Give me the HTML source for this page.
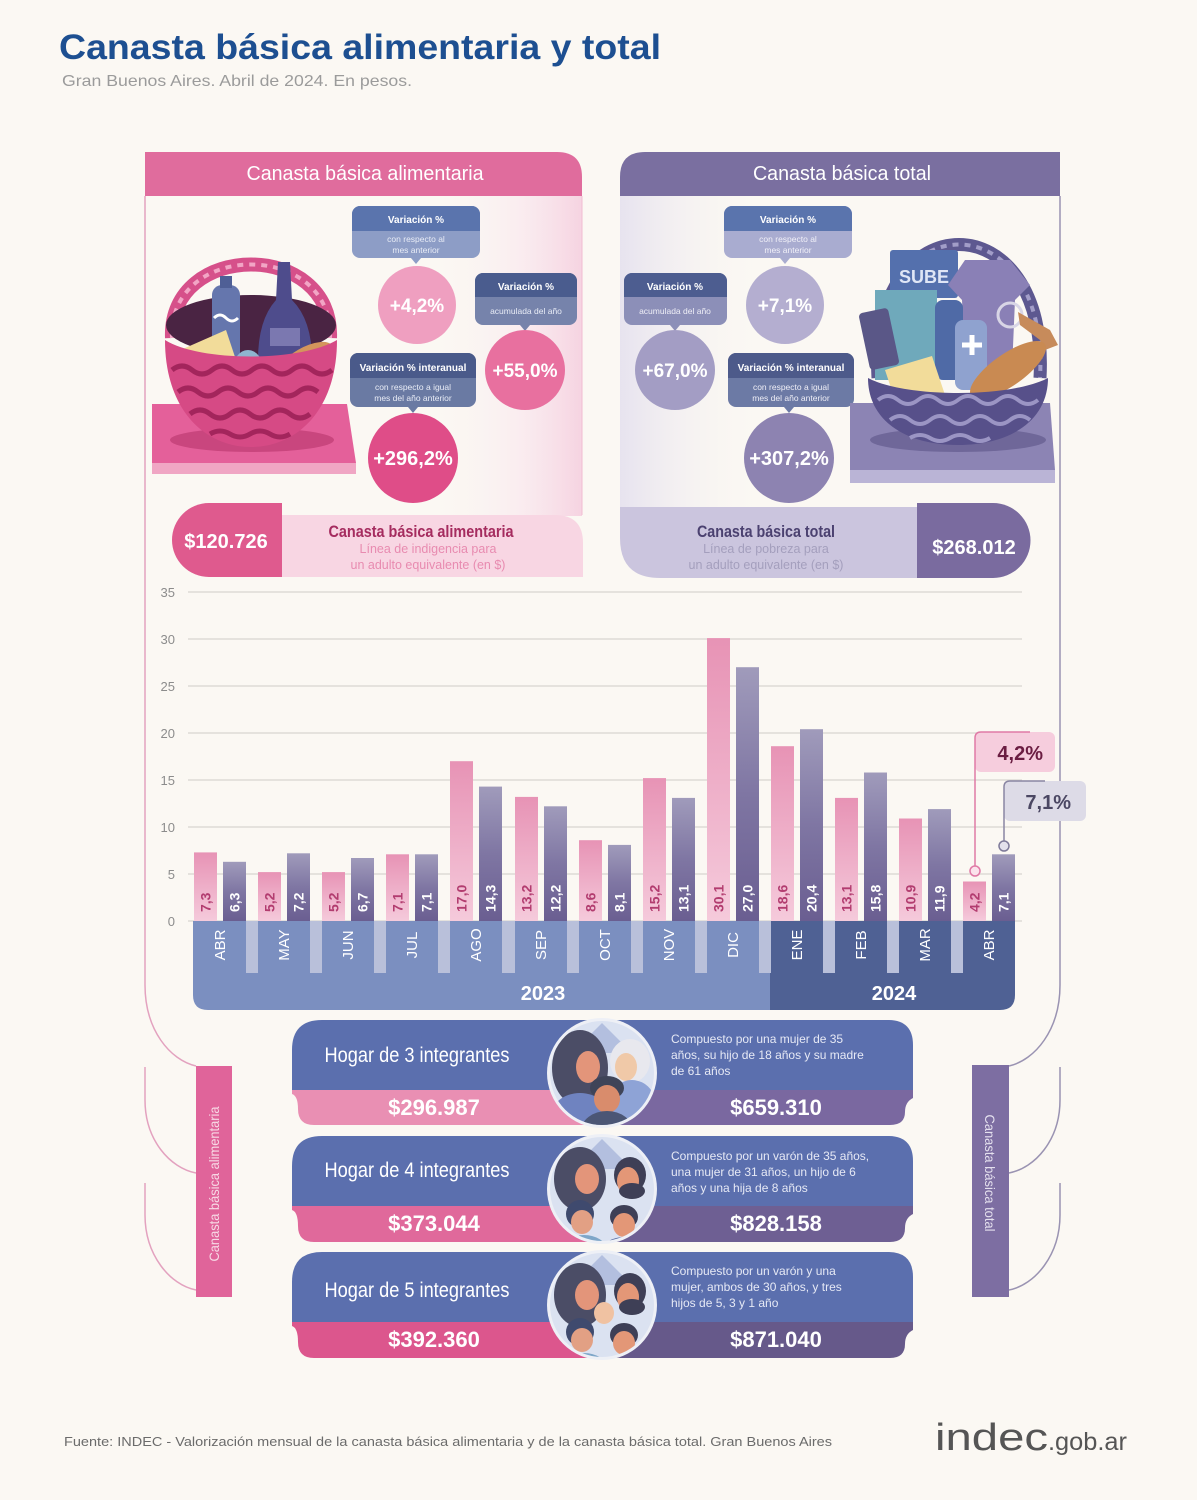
<!DOCTYPE html>
<html><head><meta charset="utf-8"><style>
html,body{margin:0;padding:0;background:#fbf8f3;}
svg{display:block;font-family:"Liberation Sans",sans-serif;}
</style></head><body>
<svg width="1197" height="1500" viewBox="0 0 1197 1500" xmlns="http://www.w3.org/2000/svg">
<defs>
<linearGradient id="pg" x1="0" y1="0" x2="0" y2="1"><stop offset="0" stop-color="#e793b5"/><stop offset="1" stop-color="#f5cadb"/></linearGradient>
<linearGradient id="dg" x1="0" y1="0" x2="0" y2="1"><stop offset="0" stop-color="#a09bbb"/><stop offset="0.5" stop-color="#7f76a3"/><stop offset="1" stop-color="#6a5e91"/></linearGradient>
<linearGradient id="lp" x1="0" y1="0" x2="1" y2="0"><stop offset="0" stop-color="#fbf8f3" stop-opacity="0"/><stop offset="0.6" stop-color="#f9e6ee" stop-opacity="0.6"/><stop offset="1" stop-color="#f6d3e1"/></linearGradient>
<linearGradient id="rp" x1="0" y1="0" x2="1" y2="0"><stop offset="0" stop-color="#e7e3ef"/><stop offset="1" stop-color="#fbf8f3" stop-opacity="0"/></linearGradient>
<clipPath id="c1"><circle cx="0" cy="0" r="52"/></clipPath>
</defs>
<rect width="1197" height="1500" fill="#fbf8f3"/>

<!-- Title -->
<text x="59" y="59" font-size="35" font-weight="bold" fill="#1d4f91" textLength="602" lengthAdjust="spacingAndGlyphs">Canasta básica alimentaria y total</text>
<text x="62" y="86" font-size="16" fill="#9b9b9b" textLength="350" lengthAdjust="spacingAndGlyphs">Gran Buenos Aires. Abril de 2024. En pesos.</text>

<!-- Panel backgrounds -->
<rect x="420" y="196" width="162" height="320" fill="url(#lp)"/>
<rect x="620" y="196" width="150" height="320" fill="url(#rp)"/>

<!-- Frame lines -->
<path d="M145,196 L145,985 C145,1030 170,1060 196,1066" fill="none" stroke="#e3a2bf" stroke-width="1.5"/>
<path d="M145,1067 L145,1100 C145,1140 170,1168 196,1173" fill="none" stroke="#e3a2bf" stroke-width="1.5"/>
<path d="M145,1183 L145,1215 C145,1255 170,1285 196,1290" fill="none" stroke="#e3a2bf" stroke-width="1.5"/>
<path d="M1060,196 L1060,985 C1060,1030 1035,1060 1009,1066" fill="none" stroke="#9a93b2" stroke-width="1.5"/>
<path d="M1060,1067 L1060,1100 C1060,1140 1035,1168 1009,1173" fill="none" stroke="#9a93b2" stroke-width="1.5"/>
<path d="M1060,1183 L1060,1215 C1060,1255 1035,1285 1009,1290" fill="none" stroke="#9a93b2" stroke-width="1.5"/>
<path d="M582,196 L582,515" fill="none" stroke="#f0bcd2" stroke-width="1"/>

<!-- Headers -->
<path d="M145,152 L557,152 Q582,152 582,177 L582,196 L145,196 Z" fill="#e06c9d"/>
<text x="365" y="180" font-size="20" fill="#ffffff" text-anchor="middle" textLength="237" lengthAdjust="spacingAndGlyphs">Canasta básica alimentaria</text>
<path d="M645,152 L1060,152 L1060,196 L620,196 L620,177 Q620,152 645,152 Z" fill="#7a6fa0"/>
<text x="842" y="180" font-size="20" fill="#ffffff" text-anchor="middle" textLength="178" lengthAdjust="spacingAndGlyphs">Canasta básica total</text>

<!-- Left basket -->
<polygon points="152,404 347,404 356,463 152,463" fill="#e4609a"/>
<polygon points="152,463 356,463 356,474 152,474" fill="#f0a6c4"/>
<ellipse cx="252" cy="440" rx="82" ry="12" fill="#c9467e"/>
<path d="M172,338 C168,240 334,240 330,338" fill="none" stroke="#d6508a" stroke-width="14"/>
<path d="M172,338 C168,240 334,240 330,338" fill="none" stroke="#f2a5c5" stroke-width="4" stroke-dasharray="6 6"/>
<ellipse cx="251" cy="325" rx="85" ry="30" fill="#4a2443"/>
<rect x="212" y="285" width="28" height="80" rx="10" fill="#6576ad"/>
<rect x="220" y="276" width="12" height="12" fill="#4f5f96"/>
<path d="M214,318 q6,-6 12,0 q6,6 12,0" stroke="#ffffff" stroke-width="3" fill="none"/>
<path d="M278,262 L290,262 L292,300 Q312,320 312,360 L258,360 Q258,320 276,300 Z" fill="#4e4c8c"/>
<rect x="270" y="328" width="30" height="18" fill="#7b78b0"/>
<polygon points="176,352 226,330 242,378 186,392" fill="#f2dc9a"/>
<circle cx="200" cy="360" r="4" fill="#d7b660"/><circle cx="218" cy="375" r="4" fill="#d7b660"/><circle cx="195" cy="380" r="3" fill="#d7b660"/>
<ellipse cx="248" cy="372" rx="16" ry="22" fill="#8fb5cf"/>
<ellipse cx="305" cy="362" rx="32" ry="14" transform="rotate(-30 305 362)" fill="#d4955c"/>
<path d="M165,340 C165,410 205,447 251,447 C297,447 337,410 337,340 C300,362 200,362 165,340 Z" fill="#d64a85"/>
<g fill="none" stroke="#a3255c" stroke-width="5">
<path d="M172,370 q10,-8 20,0 t20,0 t20,0 t20,0 t20,0 t20,0 t20,0 t20,0"/>
<path d="M178,392 q10,-8 20,0 t20,0 t20,0 t20,0 t20,0 t20,0 t20,0"/>
<path d="M190,414 q10,-8 20,0 t20,0 t20,0 t20,0 t20,0 t20,0"/>
<path d="M210,434 q10,-6 20,0 t20,0 t20,0 t20,0"/>
</g>

<!-- Left bubbles -->
<rect x="352" y="206" width="128" height="52" rx="8" fill="#8d9dc6"/>
<rect x="352" y="206" width="128" height="25" rx="8" fill="#5a74ad"/><rect x="352" y="223" width="128" height="8" fill="#5a74ad"/>
<polygon points="411,258 421,258 416,264" fill="#8d9dc6"/>
<text x="416" y="223" font-size="10" font-weight="bold" fill="#fff" text-anchor="middle">Variación %</text>
<text x="416" y="242" font-size="8.5" fill="#e8ecf6" text-anchor="middle">con respecto al</text>
<text x="416" y="253" font-size="8.5" fill="#e8ecf6" text-anchor="middle">mes anterior</text>
<circle cx="417" cy="305" r="39" fill="#ef9fc0"/>
<text x="417" y="312" font-size="19" font-weight="bold" fill="#fff" text-anchor="middle">+4,2%</text>

<rect x="475" y="273" width="102" height="52" rx="8" fill="#7683ab"/>
<rect x="475" y="273" width="102" height="24" rx="8" fill="#4a5c8e"/><rect x="475" y="289" width="102" height="8" fill="#4a5c8e"/>
<polygon points="520,325 530,325 525,331" fill="#7683ab"/>
<text x="526" y="290" font-size="10" font-weight="bold" fill="#fff" text-anchor="middle">Variación %</text>
<text x="526" y="314" font-size="8.5" fill="#e8ecf6" text-anchor="middle">acumulada del año</text>
<circle cx="525" cy="370" r="40" fill="#e8709f"/>
<text x="525" y="377" font-size="19" font-weight="bold" fill="#fff" text-anchor="middle">+55,0%</text>

<rect x="350" y="353" width="126" height="54" rx="8" fill="#6a7aa3"/>
<rect x="350" y="353" width="126" height="25" rx="8" fill="#4a5a8a"/><rect x="350" y="370" width="126" height="8" fill="#4a5a8a"/>
<polygon points="408,407 418,407 413,413" fill="#6a7aa3"/>
<text x="413" y="371" font-size="10" font-weight="bold" fill="#fff" text-anchor="middle">Variación % interanual</text>
<text x="413" y="390" font-size="8.5" fill="#e8ecf6" text-anchor="middle">con respecto a igual</text>
<text x="413" y="401" font-size="8.5" fill="#e8ecf6" text-anchor="middle">mes del año anterior</text>
<circle cx="413" cy="458" r="45" fill="#df4d88"/>
<text x="413" y="465" font-size="20" font-weight="bold" fill="#fff" text-anchor="middle">+296,2%</text>

<!-- Right bubbles -->
<rect x="724" y="206" width="128" height="52" rx="8" fill="#a9acd0"/>
<rect x="724" y="206" width="128" height="25" rx="8" fill="#5a74ad"/><rect x="724" y="223" width="128" height="8" fill="#5a74ad"/>
<polygon points="780,258 790,258 785,264" fill="#a9acd0"/>
<text x="788" y="223" font-size="10" font-weight="bold" fill="#fff" text-anchor="middle">Variación %</text>
<text x="788" y="242" font-size="8.5" fill="#f1f0f8" text-anchor="middle">con respecto al</text>
<text x="788" y="253" font-size="8.5" fill="#f1f0f8" text-anchor="middle">mes anterior</text>
<circle cx="785" cy="305" r="39" fill="#b4aed0"/>
<text x="785" y="312" font-size="19" font-weight="bold" fill="#fff" text-anchor="middle">+7,1%</text>

<rect x="624" y="273" width="103" height="52" rx="8" fill="#8c8fb8"/>
<rect x="624" y="273" width="103" height="24" rx="8" fill="#4d5d90"/><rect x="624" y="289" width="103" height="8" fill="#4d5d90"/>
<polygon points="670,325 680,325 675,331" fill="#8c8fb8"/>
<text x="675" y="290" font-size="10" font-weight="bold" fill="#fff" text-anchor="middle">Variación %</text>
<text x="675" y="314" font-size="8.5" fill="#eeeef6" text-anchor="middle">acumulada del año</text>
<circle cx="675" cy="370" r="40" fill="#a39dc4"/>
<text x="675" y="377" font-size="19" font-weight="bold" fill="#fff" text-anchor="middle">+67,0%</text>

<rect x="728" y="353" width="126" height="54" rx="8" fill="#6c7aa5"/>
<rect x="728" y="353" width="126" height="25" rx="8" fill="#4d5a8a"/><rect x="728" y="370" width="126" height="8" fill="#4d5a8a"/>
<polygon points="784,407 794,407 789,413" fill="#6c7aa5"/>
<text x="791" y="371" font-size="10" font-weight="bold" fill="#fff" text-anchor="middle">Variación % interanual</text>
<text x="791" y="390" font-size="8.5" fill="#eeeef6" text-anchor="middle">con respecto a igual</text>
<text x="791" y="401" font-size="8.5" fill="#eeeef6" text-anchor="middle">mes del año anterior</text>
<circle cx="789" cy="458" r="45" fill="#8d83b1"/>
<text x="789" y="465" font-size="20" font-weight="bold" fill="#fff" text-anchor="middle">+307,2%</text>

<!-- Right basket -->
<polygon points="850,403 1050,403 1055,470 850,470" fill="#8c84b4"/>
<polygon points="850,470 1055,470 1055,483 850,483" fill="#bab4d6"/>
<ellipse cx="958" cy="440" rx="88" ry="12" fill="#6f6799"/>
<path d="M878,378 C868,200 1050,200 1040,378" fill="none" stroke="#5d5890" stroke-width="13"/>
<path d="M878,378 C868,200 1050,200 1040,378" fill="none" stroke="#a29dc8" stroke-width="4" stroke-dasharray="6 6"/>
<rect x="890" y="250" width="68" height="48" rx="3" fill="#5470ad"/>
<text x="924" y="283" font-size="18" font-weight="bold" fill="#dfe6f6" text-anchor="middle">SUBE</text>
<rect x="875" y="290" width="62" height="90" fill="#6fa9bb"/>
<path d="M965,260 L1010,260 L1030,285 L1015,300 L1012,370 L965,370 L962,300 L948,285 Z" fill="#8a80b6"/>
<rect x="935" y="300" width="28" height="80" rx="8" fill="#4f6aa6"/>
<rect x="955" y="320" width="32" height="70" rx="8" fill="#8fa2cf"/>
<path d="M962,345 h20 M972,335 v20" stroke="#fff" stroke-width="5"/>
<rect x="864" y="310" width="30" height="58" rx="4" fill="#5a5787" transform="rotate(-12 879 339)"/>
<circle cx="1010" cy="315" r="12" fill="none" stroke="#d8d5e6" stroke-width="3"/>
<path d="M1018,312 L1050,330 L1058,345 L1045,350 L1040,340 L1020,325 Z" fill="#c78b5b"/>
<polygon points="885,370 932,356 945,395 895,400" fill="#f2dc9a"/>
<ellipse cx="1008" cy="370" rx="45" ry="16" transform="rotate(-35 1008 370)" fill="#c98a52"/>
<path d="M868,378 C868,420 905,445 958,445 C1011,445 1048,420 1048,378 C1010,398 906,398 868,378 Z" fill="#57508a"/>
<g fill="none" stroke="#9b95c4" stroke-width="4">
<path d="M878,400 q10,-8 20,0 t20,0 t20,0 t20,0 t20,0 t20,0 t20,0 t20,0"/>
<path d="M890,420 q10,-8 20,0 t20,0 t20,0 t20,0 t20,0 t20,0 t20,0"/>
<path d="M910,438 q10,-6 20,0 t20,0 t20,0 t20,0"/>
</g>

<!-- Summary bars -->
<path d="M282,515 L555,515 Q583,515 583,543 L583,577 L282,577 Z" fill="#f8d6e3"/>
<path d="M209,503 L282,503 L282,577 L209,577 A37,37 0 0 1 209,503 Z" fill="#df5a8e"/>
<text x="226" y="548" font-size="20" font-weight="bold" fill="#fff" text-anchor="middle">$120.726</text>
<text x="421" y="537" font-size="17" font-weight="bold" fill="#a52c5f" text-anchor="middle" textLength="185" lengthAdjust="spacingAndGlyphs">Canasta básica alimentaria</text>
<text x="428" y="553" font-size="12.5" fill="#e88bb0" text-anchor="middle">Línea de indigencia para</text>
<text x="428" y="569" font-size="12.5" fill="#e88bb0" text-anchor="middle">un adulto equivalente (en $)</text>

<path d="M620,507 L917,507 L917,578 L660,578 Q620,578 620,538 Z" fill="#cbc5de"/>
<path d="M917,503 L993,503 A37,37 0 0 1 993,578 L917,578 Z" fill="#7a6b9f"/>
<text x="974" y="554" font-size="20" font-weight="bold" fill="#fff" text-anchor="middle">$268.012</text>
<text x="766" y="537" font-size="17" font-weight="bold" fill="#4b4170" text-anchor="middle" textLength="138" lengthAdjust="spacingAndGlyphs">Canasta básica total</text>
<text x="766" y="553" font-size="12.5" fill="#a49fbd" text-anchor="middle">Línea de pobreza para</text>
<text x="766" y="569" font-size="12.5" fill="#a49fbd" text-anchor="middle">un adulto equivalente (en $)</text>

<!-- Chart grid -->
<g stroke="#dedbd6" stroke-width="1.5">
<line x1="188" y1="592" x2="1022" y2="592"/><line x1="188" y1="639" x2="1022" y2="639"/>
<line x1="188" y1="686" x2="1022" y2="686"/><line x1="188" y1="733" x2="1022" y2="733"/>
<line x1="188" y1="780" x2="1022" y2="780"/><line x1="188" y1="827" x2="1022" y2="827"/>
<line x1="188" y1="874" x2="1022" y2="874"/><line x1="188" y1="921" x2="1022" y2="921"/>
</g>
<g font-size="13" fill="#8c8c8c" text-anchor="end">
<text x="175" y="597">35</text><text x="175" y="644">30</text><text x="175" y="691">25</text>
<text x="175" y="738">20</text><text x="175" y="785">15</text><text x="175" y="832">10</text>
<text x="175" y="879">5</text><text x="175" y="926">0</text>
</g>

<!-- Axis band -->
<path d="M193,921 L770,921 L770,1010 L208,1010 Q193,1010 193,995 Z" fill="#7b8fc0"/>
<path d="M770,921 L1015,921 L1015,995 Q1015,1010 1000,1010 L770,1010 Z" fill="#4f6194"/>
<g fill="#b9c0da">
<rect x="246" y="921" width="12" height="52"/><rect x="310" y="921" width="12" height="52"/>
<rect x="374" y="921" width="12" height="52"/><rect x="438" y="921" width="12" height="52"/>
<rect x="502" y="921" width="13" height="52"/><rect x="567" y="921" width="12" height="52"/>
<rect x="631" y="921" width="12" height="52"/><rect x="695" y="921" width="12" height="52"/>
<rect x="759" y="921" width="12" height="52"/><rect x="823" y="921" width="12" height="52"/>
<rect x="887" y="921" width="12" height="52"/><rect x="951" y="921" width="12" height="52"/>
</g>
<g font-size="15" fill="#ffffff" text-anchor="middle">
<text transform="translate(225,945) rotate(-90)">ABR</text>
<text transform="translate(289,945) rotate(-90)">MAY</text>
<text transform="translate(353,945) rotate(-90)">JUN</text>
<text transform="translate(417,945) rotate(-90)">JUL</text>
<text transform="translate(481,945) rotate(-90)">AGO</text>
<text transform="translate(546,945) rotate(-90)">SEP</text>
<text transform="translate(610,945) rotate(-90)">OCT</text>
<text transform="translate(674,945) rotate(-90)">NOV</text>
<text transform="translate(738,945) rotate(-90)">DIC</text>
<text transform="translate(802,945) rotate(-90)">ENE</text>
<text transform="translate(866,945) rotate(-90)">FEB</text>
<text transform="translate(930,945) rotate(-90)">MAR</text>
<text transform="translate(994,945) rotate(-90)">ABR</text>
</g>
<text x="543" y="1000" font-size="20" font-weight="bold" fill="#fff" text-anchor="middle">2023</text>
<text x="894" y="1000" font-size="20" font-weight="bold" fill="#fff" text-anchor="middle">2024</text>

<!-- Bars -->
<g fill="url(#pg)">
<rect x="194" y="852.4" width="23" height="68.6"/>
<rect x="258" y="872.1" width="23" height="48.9"/>
<rect x="322" y="872.1" width="23" height="48.9"/>
<rect x="386" y="854.3" width="23" height="66.7"/>
<rect x="450" y="761.2" width="23" height="159.8"/>
<rect x="515" y="796.9" width="23" height="124.1"/>
<rect x="579" y="840.2" width="23" height="80.8"/>
<rect x="643" y="778.1" width="23" height="142.9"/>
<rect x="707" y="638.1" width="23" height="282.9"/>
<rect x="771" y="746.2" width="23" height="174.8"/>
<rect x="835" y="797.9" width="23" height="123.1"/>
<rect x="899" y="818.5" width="23" height="102.5"/>
<rect x="963" y="881.5" width="23" height="39.5"/>
</g>
<g fill="url(#dg)">
<rect x="223" y="861.8" width="23" height="59.2"/>
<rect x="287" y="853.3" width="23" height="67.7"/>
<rect x="351" y="858.0" width="23" height="63.0"/>
<rect x="415" y="854.3" width="23" height="66.7"/>
<rect x="479" y="786.6" width="23" height="134.4"/>
<rect x="544" y="806.3" width="23" height="114.7"/>
<rect x="608" y="844.9" width="23" height="76.1"/>
<rect x="672" y="797.9" width="23" height="123.1"/>
<rect x="736" y="667.2" width="23" height="253.8"/>
<rect x="800" y="729.2" width="23" height="191.8"/>
<rect x="864" y="772.5" width="23" height="148.5"/>
<rect x="928" y="809.1" width="23" height="111.9"/>
<rect x="992" y="854.3" width="23" height="66.7"/>
</g>
<g font-size="14" font-weight="bold" fill="#b23c6f">
<text transform="translate(210.5,912) rotate(-90)">7,3</text>
<text transform="translate(274.5,912) rotate(-90)">5,2</text>
<text transform="translate(338.5,912) rotate(-90)">5,2</text>
<text transform="translate(402.5,912) rotate(-90)">7,1</text>
<text transform="translate(466.5,912) rotate(-90)">17,0</text>
<text transform="translate(531.5,912) rotate(-90)">13,2</text>
<text transform="translate(595.5,912) rotate(-90)">8,6</text>
<text transform="translate(659.5,912) rotate(-90)">15,2</text>
<text transform="translate(723.5,912) rotate(-90)">30,1</text>
<text transform="translate(787.5,912) rotate(-90)">18,6</text>
<text transform="translate(851.5,912) rotate(-90)">13,1</text>
<text transform="translate(915.5,912) rotate(-90)">10,9</text>
<text transform="translate(979.5,912) rotate(-90)">4,2</text>
</g>
<g font-size="14" font-weight="bold" fill="#ffffff">
<text transform="translate(239.5,912) rotate(-90)">6,3</text>
<text transform="translate(303.5,912) rotate(-90)">7,2</text>
<text transform="translate(367.5,912) rotate(-90)">6,7</text>
<text transform="translate(431.5,912) rotate(-90)">7,1</text>
<text transform="translate(495.5,912) rotate(-90)">14,3</text>
<text transform="translate(560.5,912) rotate(-90)">12,2</text>
<text transform="translate(624.5,912) rotate(-90)">8,1</text>
<text transform="translate(688.5,912) rotate(-90)">13,1</text>
<text transform="translate(752.5,912) rotate(-90)">27,0</text>
<text transform="translate(816.5,912) rotate(-90)">20,4</text>
<text transform="translate(880.5,912) rotate(-90)">15,8</text>
<text transform="translate(944.5,912) rotate(-90)">11,9</text>
<text transform="translate(1008.5,912) rotate(-90)">7,1</text>
</g>

<!-- Callouts -->
<rect x="975" y="732" width="80" height="40" rx="6" fill="#f6cddd"/>
<path d="M975,866 L975,738 Q975,732 981,732 L1030,732" fill="none" stroke="#e07aa6" stroke-width="1.5"/>
<circle cx="975" cy="871" r="5" fill="#fbe3ec" stroke="#e07aa6" stroke-width="1.5"/>
<text x="1043" y="760" font-size="20" font-weight="bold" fill="#6b1d42" text-anchor="end">4,2%</text>
<rect x="1004" y="781" width="82" height="40" rx="6" fill="#dddbe7"/>
<path d="M1004,841 L1004,787 Q1004,781 1010,781 L1045,781" fill="none" stroke="#8a86a3" stroke-width="1.5"/>
<circle cx="1004" cy="846" r="5" fill="#e4e2ec" stroke="#7f7b9a" stroke-width="1.5"/>
<text x="1071" y="809" font-size="20" font-weight="bold" fill="#4b4763" text-anchor="end">7,1%</text>

<!-- Side tags -->
<rect x="196" y="1066" width="36" height="231" fill="#e0649a"/>
<text transform="translate(219,1184) rotate(-90)" font-size="14" fill="#f7d9e5" text-anchor="middle" textLength="155" lengthAdjust="spacingAndGlyphs">Canasta básica alimentaria</text>
<rect x="972" y="1065" width="37" height="232" fill="#7d6ea2"/>
<text transform="translate(985,1173) rotate(90)" font-size="14" fill="#e4e0ee" text-anchor="middle" textLength="117" lengthAdjust="spacingAndGlyphs">Canasta básica total</text>

<!-- Household cards -->
<g>
<path d="M322,1020 L888,1020 Q913,1020 913,1045 L913,1090 L292,1090 L292,1050 Q292,1020 322,1020 Z" fill="#5b6fae"/>
<path d="M292,1090 L590,1090 L590,1125 L314,1125 Q298,1125 298,1109 Q298,1096 292,1094 Z" fill="#e98fb3"/>
<path d="M600,1090 L913,1090 L913,1098 Q905,1102 905,1112 Q905,1125 890,1125 L600,1125 Z" fill="#7a68a0"/>
<text x="417" y="1062" font-size="21" fill="#fff" text-anchor="middle" textLength="185" lengthAdjust="spacingAndGlyphs">Hogar de 3 integrantes</text>
<text x="434" y="1115" font-size="22" font-weight="bold" fill="#fff" text-anchor="middle">$296.987</text>
<g font-size="12" fill="#e6e9f5"><text x="671" y="1043">Compuesto por una mujer de 35</text><text x="671" y="1059">años, su hijo de 18 años y su madre</text><text x="671" y="1075">de 61 años</text></g>
<text x="776" y="1115" font-size="22" font-weight="bold" fill="#fff" text-anchor="middle">$659.310</text>
</g>
<g>
<path d="M322,1136 L888,1136 Q913,1136 913,1161 L913,1206 L292,1206 L292,1166 Q292,1136 322,1136 Z" fill="#5b6fae"/>
<path d="M292,1206 L590,1206 L590,1242 L314,1242 Q298,1242 298,1226 Q298,1212 292,1210 Z" fill="#e0699b"/>
<path d="M600,1206 L913,1206 L913,1214 Q905,1218 905,1228 Q905,1242 890,1242 L600,1242 Z" fill="#6e5f93"/>
<text x="417" y="1177" font-size="21" fill="#fff" text-anchor="middle" textLength="185" lengthAdjust="spacingAndGlyphs">Hogar de 4 integrantes</text>
<text x="434" y="1231" font-size="22" font-weight="bold" fill="#fff" text-anchor="middle">$373.044</text>
<g font-size="12" fill="#e6e9f5"><text x="671" y="1160">Compuesto por un varón de 35 años,</text><text x="671" y="1176">una mujer de 31 años, un hijo de 6</text><text x="671" y="1192">años y una hija de 8 años</text></g>
<text x="776" y="1231" font-size="22" font-weight="bold" fill="#fff" text-anchor="middle">$828.158</text>
</g>
<g>
<path d="M322,1252 L888,1252 Q913,1252 913,1277 L913,1322 L292,1322 L292,1282 Q292,1252 322,1252 Z" fill="#5b6fae"/>
<path d="M292,1322 L590,1322 L590,1358 L314,1358 Q298,1358 298,1342 Q298,1328 292,1326 Z" fill="#dc568d"/>
<path d="M600,1322 L913,1322 L913,1330 Q905,1334 905,1344 Q905,1358 890,1358 L600,1358 Z" fill="#66598a"/>
<text x="417" y="1297" font-size="21" fill="#fff" text-anchor="middle" textLength="185" lengthAdjust="spacingAndGlyphs">Hogar de 5 integrantes</text>
<text x="434" y="1347" font-size="22" font-weight="bold" fill="#fff" text-anchor="middle">$392.360</text>
<g font-size="12" fill="#e6e9f5"><text x="671" y="1275">Compuesto por un varón y una</text><text x="671" y="1291">mujer, ambos de 30 años, y tres</text><text x="671" y="1307">hijos de 5, 3 y 1 año</text></g>
<text x="776" y="1347" font-size="22" font-weight="bold" fill="#fff" text-anchor="middle">$871.040</text>
</g>

<!-- Family circles -->
<g transform="translate(602,1073)">
<circle r="55" fill="#eef0f6"/>
<g clip-path="url(#c1)">
<rect x="-60" y="-60" width="120" height="120" fill="#dbe2f1"/>
<polygon points="-30,-20 0,-50 30,-20" fill="#b3bfdf"/>
<ellipse cx="-22" cy="-5" rx="28" ry="38" fill="#4b4d66"/>
<ellipse cx="-14" cy="-6" rx="12" ry="16" fill="#e3957a"/>
<ellipse cx="-22" cy="45" rx="30" ry="25" fill="#6f83c0"/>
<ellipse cx="28" cy="-12" rx="20" ry="22" fill="#e8e8ee"/>
<ellipse cx="24" cy="-6" rx="11" ry="14" fill="#f0c9a8"/>
<ellipse cx="30" cy="35" rx="25" ry="28" fill="#8ea3d6"/>
<ellipse cx="5" cy="15" rx="17" ry="12" fill="#3f4458"/>
<ellipse cx="5" cy="26" rx="13" ry="14" fill="#d98c6c"/>
<ellipse cx="5" cy="58" rx="26" ry="20" fill="#4b5675"/>
</g></g>
<g transform="translate(602,1189)">
<circle r="55" fill="#eef0f6"/>
<g clip-path="url(#c1)">
<rect x="-60" y="-60" width="120" height="120" fill="#dbe2f1"/>
<polygon points="-30,-20 0,-50 30,-20" fill="#b3bfdf"/>
<ellipse cx="-22" cy="-10" rx="26" ry="32" fill="#4b4d66"/>
<ellipse cx="-15" cy="-10" rx="12" ry="15" fill="#e3957a"/>
<ellipse cx="28" cy="-14" rx="16" ry="18" fill="#3e3f56"/>
<ellipse cx="26" cy="-8" rx="11" ry="14" fill="#e39777"/>
<ellipse cx="30" cy="2" rx="13" ry="8" fill="#3e3f56"/>
<ellipse cx="-22" cy="25" rx="14" ry="14" fill="#3f4a6e"/>
<ellipse cx="-20" cy="33" rx="11" ry="12" fill="#e2a084"/>
<ellipse cx="22" cy="28" rx="14" ry="12" fill="#3e3f56"/>
<ellipse cx="22" cy="36" rx="11" ry="12" fill="#e39777"/>
<ellipse cx="-18" cy="60" rx="22" ry="14" fill="#7ea6c8"/>
<ellipse cx="22" cy="62" rx="22" ry="14" fill="#5f74a8"/>
</g></g>
<g transform="translate(602,1305)">
<circle r="55" fill="#eef0f6"/>
<g clip-path="url(#c1)">
<rect x="-60" y="-60" width="120" height="120" fill="#dbe2f1"/>
<polygon points="-30,-20 0,-50 30,-20" fill="#b3bfdf"/>
<ellipse cx="-22" cy="-10" rx="26" ry="32" fill="#4b4d66"/>
<ellipse cx="-15" cy="-10" rx="12" ry="15" fill="#e3957a"/>
<ellipse cx="28" cy="-14" rx="16" ry="18" fill="#3e3f56"/>
<ellipse cx="26" cy="-8" rx="11" ry="14" fill="#e39777"/>
<ellipse cx="30" cy="2" rx="13" ry="8" fill="#3e3f56"/>
<ellipse cx="2" cy="8" rx="10" ry="11" fill="#f0c2a2"/>
<ellipse cx="-22" cy="27" rx="14" ry="14" fill="#3f4a6e"/>
<ellipse cx="-20" cy="35" rx="11" ry="12" fill="#e2a084"/>
<ellipse cx="22" cy="30" rx="14" ry="12" fill="#3e3f56"/>
<ellipse cx="22" cy="38" rx="11" ry="12" fill="#e39777"/>
<ellipse cx="-18" cy="62" rx="22" ry="14" fill="#7ea6c8"/>
<ellipse cx="22" cy="64" rx="22" ry="14" fill="#5f74a8"/>
</g></g>

<!-- Footer -->
<text x="64" y="1446" font-size="13" fill="#6b6b6b" textLength="768" lengthAdjust="spacingAndGlyphs">Fuente: INDEC - Valorización mensual de la canasta básica alimentaria y de la canasta básica total. Gran Buenos Aires</text>
<text x="935" y="1450" font-size="38" fill="#555555" textLength="113" lengthAdjust="spacingAndGlyphs">indec</text>
<text x="1048" y="1450" font-size="25" fill="#555555" textLength="79" lengthAdjust="spacingAndGlyphs">.gob.ar</text>
</svg>
</body></html>
